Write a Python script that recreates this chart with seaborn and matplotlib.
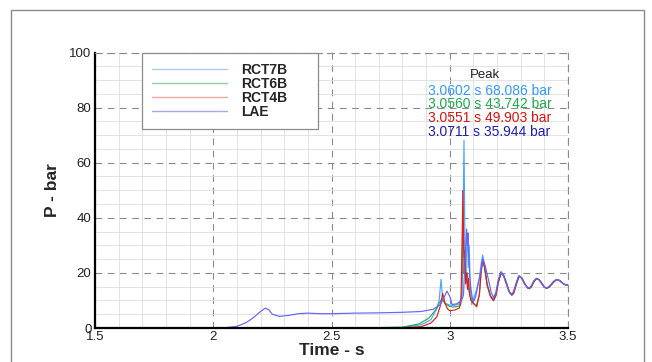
import numpy as np
import pandas as pd
import seaborn as sns
import matplotlib.pyplot as plt
from matplotlib.lines import Line2D
from matplotlib.patches import Rectangle
from matplotlib.ticker import MultipleLocator

# Pressure traces (time in s, pressure in bar)
lae_t = [1.95, 2.05, 2.10, 2.14, 2.17, 2.20, 2.22, 2.235, 2.25, 2.28, 2.32, 2.36, 2.40, 2.45,
         2.50, 2.60, 2.70, 2.80, 2.88, 2.93, 2.96, 2.975, 2.988, 3.0, 3.01, 3.03, 3.05, 3.058,
         3.062, 3.066, 3.0711, 3.074, 3.077, 3.081, 3.085, 3.09, 3.095, 3.10, 3.11, 3.12, 3.13,
         3.14, 3.15, 3.165, 3.175, 3.185, 3.195, 3.205, 3.215, 3.226, 3.238, 3.25, 3.26, 3.268,
         3.28, 3.291, 3.303, 3.316, 3.328, 3.335, 3.343, 3.355, 3.365, 3.376, 3.388, 3.398,
         3.408, 3.418, 3.438, 3.45, 3.463, 3.476, 3.488, 3.5]
lae_p = [0, 0.1, 0.6, 2.0, 3.8, 6.0, 7.2, 6.6, 5.0, 4.2, 4.6, 5.2, 5.4, 5.2,
         5.2, 5.4, 5.5, 5.7, 6.0, 6.8, 8.5, 11.0, 13.4, 11.5, 8.5, 8.8, 10.0, 12.0,
         20.0, 28.0, 35.944, 30.0, 34.5, 25.0, 18.0, 14.0, 11.0, 9.5, 11.5, 16.0, 20.0,
         25.0, 22.5, 17.0, 13.0, 11.0, 13.0, 17.5, 20.3, 19.2, 16.2, 13.2, 12.4, 12.9,
         16.2, 19.0, 18.2, 16.0, 14.6, 14.5, 15.1, 17.1, 18.0, 17.6, 16.1, 14.9,
         14.6, 14.9, 16.9, 17.6, 17.3, 16.3, 15.7, 15.8]

rct4b_t = [2.60, 2.80, 2.88, 2.92, 2.945, 2.96, 2.97, 2.98, 2.99, 3.00, 3.02, 3.04, 3.047,
           3.052, 3.0551, 3.058, 3.061, 3.064, 3.067, 3.071, 3.075, 3.079, 3.084, 3.09, 3.10,
           3.114, 3.125, 3.132, 3.139, 3.147, 3.158, 3.172, 3.184, 3.195, 3.205, 3.217, 3.228,
           3.24, 3.252, 3.262, 3.27, 3.282, 3.293, 3.305, 3.318, 3.33, 3.337, 3.345, 3.357,
           3.367, 3.378, 3.39, 3.40, 3.41, 3.42, 3.44, 3.452, 3.465, 3.478, 3.49, 3.5]
rct4b_p = [0, 0.1, 0.5, 1.8, 4.0, 8.0, 12.6, 9.0, 7.0, 6.3, 6.5, 7.2, 9.0,
           30.0, 49.903, 35.0, 20.0, 28.0, 16.0, 20.0, 14.0, 18.0, 12.0, 10.0, 9.0,
           7.7, 12.0, 20.0, 24.8, 22.0, 15.5, 11.5, 10.0, 11.8, 16.5, 20.0, 19.0,
           16.0, 13.0, 12.0, 12.6, 16.0, 18.8, 18.0, 15.8, 14.5, 14.4, 15.0, 17.0,
           18.0, 17.5, 16.0, 14.8, 14.4, 14.8, 16.8, 17.6, 17.2, 16.2, 15.6, 15.6]

rct6b_t = [2.60, 2.80, 2.87, 2.91, 2.94, 2.955, 2.967, 2.98, 3.00, 3.02, 3.04, 3.05, 3.053,
           3.056, 3.059, 3.062, 3.066, 3.070, 3.075, 3.08, 3.09, 3.10, 3.112, 3.125, 3.132,
           3.139, 3.147, 3.158, 3.172, 3.184, 3.195, 3.205, 3.217, 3.228, 3.24, 3.252, 3.262,
           3.27, 3.282, 3.293, 3.305, 3.318, 3.33, 3.337, 3.345, 3.357, 3.367, 3.378, 3.39,
           3.40, 3.41, 3.42, 3.44, 3.452, 3.465, 3.478, 3.49, 3.5]
rct6b_p = [0, 0.3, 1.5, 3.5, 6.5, 9.0, 10.5, 8.8, 7.8, 7.6, 8.0, 11.0, 30.0,
           43.742, 30.0, 24.0, 26.0, 18.0, 20.0, 14.0, 10.5, 9.0, 8.0, 12.0, 19.5,
           24.5, 22.0, 15.8, 11.8, 10.2, 12.0, 16.4, 19.8, 19.0, 16.2, 13.2, 12.2,
           12.8, 16.0, 18.8, 18.1, 16.0, 14.6, 14.4, 15.0, 16.9, 17.9, 17.5, 16.2,
           14.9, 14.5, 14.9, 16.7, 17.5, 17.2, 16.2, 15.6, 15.6]

rct7b_t = [2.60, 2.80, 2.88, 2.92, 2.945, 2.955, 2.963, 2.97, 2.98, 3.00, 3.02, 3.04, 3.052,
           3.056, 3.0602, 3.064, 3.067, 3.071, 3.075, 3.078, 3.082, 3.087, 3.093, 3.10, 3.11,
           3.125, 3.132, 3.139, 3.147, 3.158, 3.172, 3.186, 3.196, 3.206, 3.217, 3.228, 3.24,
           3.252, 3.262, 3.27, 3.282, 3.293, 3.305, 3.318, 3.33, 3.337, 3.345, 3.357, 3.367,
           3.378, 3.39, 3.40, 3.41, 3.42, 3.44, 3.452, 3.465, 3.478, 3.49, 3.5]
rct7b_p = [0, 0.2, 1.2, 3.0, 7.0, 10.0, 17.7, 10.5, 9.0, 8.3, 8.2, 8.8, 12.0,
           35.0, 68.086, 30.0, 20.0, 28.0, 33.7, 22.0, 30.0, 14.0, 8.5, 10.5, 13.0,
           18.0, 23.0, 26.5, 23.0, 16.0, 11.5, 9.8, 12.0, 17.0, 20.5, 19.3, 16.5,
           13.0, 11.8, 12.5, 16.2, 19.0, 18.3, 16.0, 14.4, 14.2, 14.9, 17.0, 18.0,
           17.6, 16.2, 14.8, 14.4, 14.8, 16.8, 17.6, 17.3, 16.3, 15.7, 15.8]

series = ['RCT7B', 'RCT6B', 'RCT4B', 'LAE']
line_colors = ['#4da3ff', '#2fa84f', '#e02020', '#6464ff']
legend_colors = ['#a9cdf3', '#8fd1a0', '#f2a6a6', '#a8a8f2']
text_colors = ['#3399ff', '#1faa4a', '#dd1111', '#1f1fb0']
peak_times = [3.0602, 3.0560, 3.0551, 3.0711]
peak_values = [68.086, 43.742, 49.903, 35.944]

df = pd.concat([
    pd.DataFrame({'Time': rct7b_t, 'P': rct7b_p, 'Series': 'RCT7B'}),
    pd.DataFrame({'Time': rct6b_t, 'P': rct6b_p, 'Series': 'RCT6B'}),
    pd.DataFrame({'Time': rct4b_t, 'P': rct4b_p, 'Series': 'RCT4B'}),
    pd.DataFrame({'Time': lae_t, 'P': lae_p, 'Series': 'LAE'}),
], ignore_index=True)

sns.set_theme(style='white')
plt.rcParams['font.family'] = ['Liberation Sans', 'DejaVu Sans']

fig = plt.figure(figsize=(6.52, 3.62), dpi=100)
ax = fig.add_axes([0.1457, 0.0939, 0.7255, 0.761])

# outer frame around the whole plot
fig.patches.append(Rectangle((11 / 652, -0.02), 633 / 652, 1.0 - 10 / 362 + 0.02,
                             transform=fig.transFigure, fill=False,
                             edgecolor='#8c8c8c', linewidth=1.0))

sns.lineplot(data=df, x='Time', y='P', hue='Series', hue_order=series,
             palette=dict(zip(series, line_colors)), estimator=None, sort=False,
             linewidth=0.85, legend=False, ax=ax)
for ln in ax.lines:
    ln.set_solid_joinstyle('round')

ax.set_xlim(1.5, 3.5)
ax.set_ylim(0, 100)
ax.xaxis.set_major_locator(MultipleLocator(0.5))
ax.yaxis.set_major_locator(MultipleLocator(20))
ax.xaxis.set_minor_locator(MultipleLocator(0.1))
ax.yaxis.set_minor_locator(MultipleLocator(5))
ax.set_xticks([1.5, 2, 2.5, 3, 3.5], ['1.5', '2', '2.5', '3', '3.5'])

ax.grid(which='minor', color='#dedede', linewidth=0.6, linestyle='-')
ax.grid(which='major', color='#8a8a8a', linewidth=0.8, linestyle=(0, (6, 5)))
ax.set_axisbelow(True)

for side in ['left', 'bottom']:
    ax.spines[side].set_color('black')
    ax.spines[side].set_linewidth(1.6)
for side in ['top', 'right']:
    ax.spines[side].set_color('#8a8a8a')
    ax.spines[side].set_linewidth(0.8)
    ax.spines[side].set_linestyle((0, (6, 5)))

ax.tick_params(which='major', direction='in', length=6, width=2, color='black',
               labelsize=9.5, pad=2.5, labelcolor='#222222')
ax.tick_params(which='minor', length=0)

ax.set_xlabel('Time - s', fontsize=12.5, fontweight='bold', labelpad=-0.5)
ax.set_ylabel('P - bar', fontsize=12.5, fontweight='bold', labelpad=7)

handles = [Line2D([], [], color=c, linewidth=1.0) for c in legend_colors]
leg = ax.legend(handles, series, loc='upper left', bbox_to_anchor=(0.0987, 1.0, 0.373, 0),
                mode='expand', prop={'weight': 'bold', 'size': 10}, handlelength=5.4,
                handletextpad=1.0, labelspacing=0.0, borderpad=0.75, borderaxespad=0,
                fancybox=False, framealpha=1, edgecolor='#8c8c8c')
leg.get_frame().set_linewidth(0.9)

ax.text(3.149, 91.7, 'Peak', ha='center', va='center', fontsize=9.5, color='#222222')
for i, (pt, pv) in enumerate(zip(peak_times, peak_values)):
    ax.text(2.909, 86.2 - 5.0 * i, f'{pt:.4f} s {pv:.3f} bar', ha='left', va='center',
            fontsize=10, color=text_colors[i])

fig.savefig('out.png', dpi=100)
